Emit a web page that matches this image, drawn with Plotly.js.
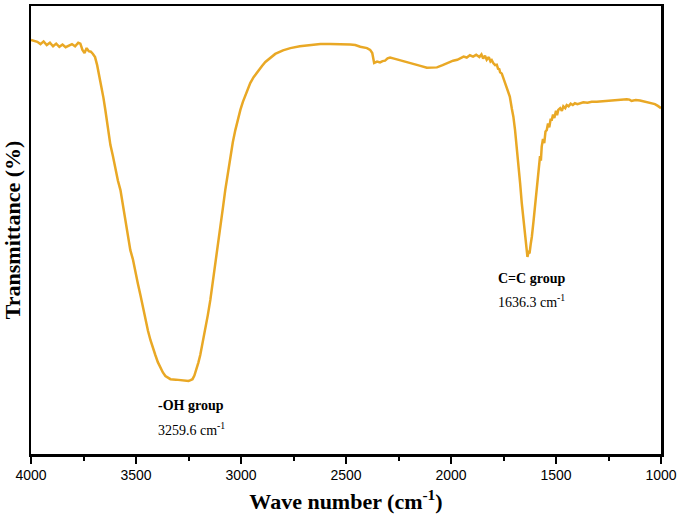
<!DOCTYPE html>
<html>
<head>
<meta charset="utf-8">
<script src="https://cdn.plot.ly/plotly-3.0.1.min.js"></script>
<style>html,body{margin:0;padding:0;background:#fff}#chart{width:685px;height:522px}</style>
</head>
<body>
<div id="chart"></div>
<script>
const wavenumber = [4000,3985,3970,3955,3940,3925,3910,3895,3880,3865,3850,3835,3820,3805,3790,3775,3765,3755,3745,3735,3725,3715,3705,3695,3685,3675,
3665,3655,3646,3635,3630,3622,3610,3598,3586,3574,3562,3550,3538,3527,3515,3503,3491,3479,3467,3455,3443,3431,3420,3408,3396,3384,3372,3360,3336,3310,3289,3270,3250,3240,3231,3222,3213,3203,3194,3182,3170,3158,3146,3134,3122,3110,3098,3086,3075,3063,3051,3039,3027,3015,3003,2991,2979,2967,2956,2940,2922,2900,2884,2860,2837,2800,2765,2720,2670,2622,2575,2527,2480,2456,2432,2400,2385,2375,2366,2352,2338,2326,2314,2302,2290,2275,2258,2230,2193,2150,2115,2090,2067,2040,2020,1990,1970,1957,1940,1925,1910,1895,1880,1865,1855,1847,1838,1830,1820,1812,1806,1798,1790,1782,1776,1770,1766,1758,1752,1746,1742,1735,1727,1720,1710,1703,1695,1687,1679,1671,1663,1655,1647,1640,1636,1631,1626,1620,1615,1607,1599,1592,1584,1576,1572,1568,1562,1556,1550,1544,1538,1532,1526,1520,1514,1508,1500,1495,1489,1480,1472,1465,1456,1449,1440,1430,1420,1410,1398,1385,1370,1350,1330,1306,1280,1250,1227,1200,1180,1163,1150,1140,1132,1120,1100,1068,1050,1029,1015,1000];
const transmittance = [92.4,92.2,92.0,91.5,92.1,91.3,91.8,91.0,91.6,90.9,91.4,90.8,91.2,91.5,91.0,91.8,91.6,90.2,89.5,90.6,89.9,89.8,89.3,88.6,86.8,84.5,
82.4,79.5,76.8,73.5,72.0,69.0,66.5,63.4,61.0,58.9,55.5,52.2,49.0,45.5,43.5,41.1,38.0,35.5,32.8,29.9,27.5,25.4,23.6,22.1,20.5,19.2,18.2,17.4,16.7,16.6,16.5,16.3,16.3,16.5,16.7,17.5,18.8,20.4,22.1,24.8,27.7,31.0,34.4,38.3,42.2,46.7,51.1,55.0,58.9,62.8,66.7,69.6,72.3,74.7,76.8,78.6,80.1,81.6,82.8,84.1,85.3,86.6,87.5,88.5,89.3,90.1,90.6,91.0,91.3,91.5,91.5,91.5,91.4,91.3,90.9,90.6,90.2,89.5,87.3,87.6,87.4,87.7,87.8,88.3,88.5,88.3,88.1,87.7,87.2,86.7,86.2,86.3,86.3,86.8,87.2,87.8,88.0,88.3,88.7,88.5,89.0,88.7,89.1,88.6,89.2,88.3,88.9,88.0,88.6,87.6,87.9,87.2,86.8,86.9,86.0,85.9,85.2,84.9,84.1,83.6,82.8,82.2,80.8,79.8,77.0,75.3,72.3,68.8,64.9,60.5,56.0,52.0,48.5,46.0,44.0,45.0,44.8,47.0,48.5,52.0,56.0,59.8,63.4,66.5,65.5,68.6,70.3,69.4,72.0,72.3,73.8,72.9,74.6,74.6,75.8,75.0,76.6,75.6,76.8,77.2,76.6,77.6,77.2,77.9,77.6,78.2,77.9,78.3,78.1,78.3,78.5,78.4,78.6,78.6,78.7,78.8,78.9,79.1,79.2,79.2,79.1,78.8,78.9,79.0,78.9,78.6,78.4,78.1,77.7,77.2];
const xTicks = [4000,3500,3000,2500,2000,1500,1000];
const peakLabels = ["<b>-OH group</b>", "3259.6 cm<sup>-1</sup>", "<b>C=C group</b>", "1636.3 cm<sup>-1</sup>"];
const peakLabelX = [3403, 3403, 1785, 1785];
const peakLabelY = [10.8, 5.6, 39.1, 34.2];

const trace = {
  x: wavenumber, y: transmittance, type: 'scatter', mode: 'lines',
  line: {color: '#E9A825', width: 2.5}, hoverinfo: 'skip'
};
const annotations = peakLabels.map((t, i) => ({
  x: peakLabelX[i], y: peakLabelY[i], xref: 'x', yref: 'y', text: t,
  showarrow: false, xanchor: 'left', yanchor: 'middle',
  font: {family: 'Liberation Serif, Times New Roman, serif', size: 14, color: '#000'}
}));
const layout = {
  width: 685, height: 522,
  margin: {l: 30.5, r: 24, t: 6, b: 68},
  paper_bgcolor: '#fff', plot_bgcolor: '#fff',
  showlegend: false,
  xaxis: {
    range: [4000, 1000], tickvals: xTicks, ticktext: xTicks.map(String),
    ticks: 'outside', ticklen: 7, tickwidth: 2, tickcolor: '#000',
    minor: {dtick: 250, tick0: 1000, ticks: 'outside', ticklen: 4, tickwidth: 2, tickcolor: '#000', showgrid: false},
    showline: true, linecolor: '#000', linewidth: 2.5, mirror: true,
    showgrid: false, zeroline: false,
    tickfont: {family: 'Liberation Sans, Arial, sans-serif', size: 14, color: '#000'},
    title: {text: '<b>Wave number (cm<sup>-1</sup>)</b>', font: {family: 'Liberation Serif, Times New Roman, serif', size: 22, color: '#000'}, standoff: 12}
  },
  yaxis: {
    range: [0, 100], showticklabels: false, ticks: '',
    showline: true, linecolor: '#000', linewidth: 2.5, mirror: true,
    showgrid: false, zeroline: false,
    title: {text: '<b>Transmittance (%)</b>', font: {family: 'Liberation Serif, Times New Roman, serif', size: 22, color: '#000'}, standoff: 4}
  },
  annotations: annotations
};
Plotly.newPlot('chart', [trace], layout, {displayModeBar: false, staticPlot: true});
</script>
</body>
</html>
